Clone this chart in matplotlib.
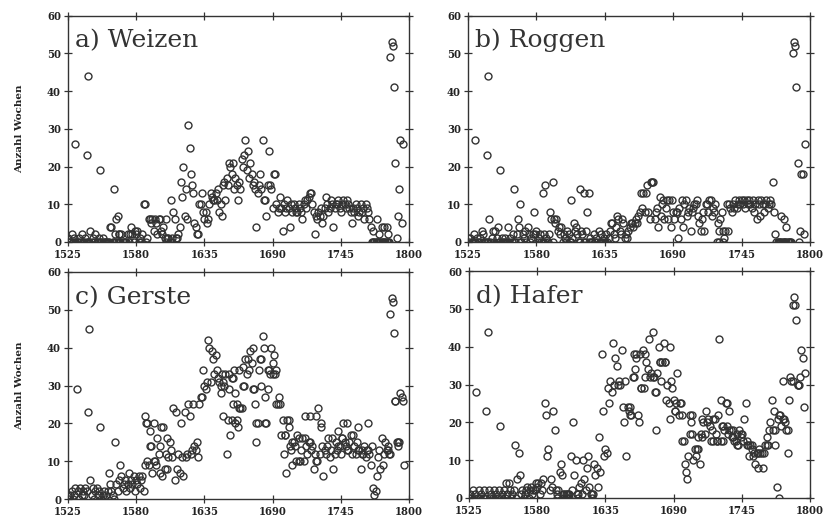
import numpy as np
import matplotlib
matplotlib.use("Agg")
import matplotlib.pyplot as plt

# weeks per year, one value per year starting 1525 (rows of ten years)
weizen = [
    1, 0, 0, 2, 0, 1, 26, 0, 0, 1,
    0, 2, 0, 0, 1, 23, 44, 0, 3, 0,
    1, 0, 2, 0, 0, 1, 19, 0, 1, 0,
    0, 0, 0, 0, 4, 4, 0, 14, 2, 6,
    7, 2, 0, 2, 0, 0, 0, 0, 2, 0,
    2, 4, 2, 0, 3, 2, 3, 0, 1, 0,
    2, 10, 10, 0, 1, 6, 6, 5, 6, 3,
    6, 5, 2, 6, 6, 3, 2, 4, 1, 0,
    1, 1, 0, 11, 1, 8, 6, 1, 1, 2,
    4, 16, 12, 20, 7, 14, 6, 31, 25, 18,
    15, 13, 5, 4, 2, 2, 10, 10, 13, 8,
    6, 8, 5, 6, 10, 13, 12, 11, 11, 13,
    11, 14, 8, 10, 7, 15, 16, 11, 17, 15,
    21, 20, 18, 21, 14, 17, 15, 11, 16, 14,
    22, 20, 23, 27, 19, 24, 17, 21, 18, 15,
    16, 14, 4, 13, 15, 18, 14, 27, 11, 11,
    7, 15, 24, 15, 14, 9, 18, 18, 10, 8,
    9, 12, 9, 3, 10, 8, 9, 11, 9, 4,
    10, 8, 10, 9, 8, 8, 10, 9, 8, 6,
    10, 11, 9, 11, 12, 13, 13, 10, 8, 2,
    7, 6, 8, 7, 9, 5, 7, 9, 12, 10,
    8, 9, 11, 10, 4, 9, 10, 10, 11, 9,
    8, 10, 11, 10, 9, 11, 10, 9, 8, 5,
    9, 8, 10, 9, 7, 8, 10, 8, 9, 6,
    10, 9, 8, 6, 4, 0, 0, 0, 0, 0,
    0, 0, 0, 0, 0, 0, 0, 0, 0, 0,
    49, 53, 52, 41, 21, 1, 7, 14, 27, 5, 26,
]
weizen_x_years = [1531, 1540, 1541, 1551, 1562, 1564, 1565, 1566, 1604, 1771,
                  1774, 1776, 1778, 1780, 1782, 1783]
weizen_x_vals = [0, 0, 0, 0, 0, 0, 0, 2, 6, 3, 6, 2, 4, 4, 4, 2]

roggen = [
    1, 0, 1, 0, 0, 2, 27, 1, 0, 0,
    1, 3, 2, 0, 0, 23, 44, 6, 0, 1,
    3, 0, 3, 1, 4, 0, 19, 1, 0, 0,
    1, 0, 4, 0, 1, 0, 2, 14, 0, 2,
    6, 4, 10, 0, 2, 1, 3, 0, 4, 2,
    0, 1, 2, 8, 2, 3, 0, 1, 2, 0,
    13, 2, 15, 1, 0, 2, 8, 6, 16, 6,
    5, 6, 3, 4, 2, 4, 0, 2, 1, 0,
    3, 2, 0, 11, 1, 5, 3, 4, 2, 0,
    14, 3, 2, 13, 0, 3, 8, 13, 1, 0,
    0, 2, 0, 1, 0, 3, 0, 2, 0, 1,
    0, 2, 0, 1, 3, 5, 5, 2, 1, 4,
    7, 6, 3, 2, 6, 5, 1, 2, 1, 3,
    4, 5, 5, 4, 5, 6, 5, 7, 8, 13,
    9, 13, 8, 13, 15, 8, 6, 16, 16, 16,
    6, 8, 9, 4, 12, 7, 10, 11, 6, 9,
    11, 6, 11, 4, 11, 8, 6, 8, 8, 1,
    9, 6, 11, 4, 10, 11, 7, 8, 9, 3,
    8, 9, 10, 10, 11, 7, 5, 3, 6, 8,
    3, 10, 10, 8, 11, 11, 7, 9, 8, 10,
    0, 5, 3, 6, 8, 3, 1, 3, 10, 3,
    10, 9, 8, 10, 9, 11, 9, 10, 11, 10,
    11, 10, 11, 9, 11, 10, 11, 10, 9, 11,
    8, 10, 6, 11, 10, 7, 11, 10, 8, 10,
    11, 9, 10, 11, 10, 16, 8, 2, 0, 0,
    0, 0, 7, 0, 6, 0, 4, 0, 0, 0,
    0, 50, 53, 52, 41, 21, 0, 3, 18, 18, 2, 26,
]
roggen_x_years = [1531, 1540, 1541, 1551, 1562, 1567, 1585, 1587, 1593, 1608,
                  1615, 1618, 1622, 1727, 1730, 1777, 1779, 1781]
roggen_x_vals = [0, 0, 0, 0, 0, 0, 0, 0, 0, 0, 0, 0, 0, 0, 0, 0, 0, 0]

gerste = [
    1, 0, 1, 2, 0, 1, 3, 29, 2, 0,
    3, 1, 2, 1, 3, 2, 23, 45, 5, 1,
    3, 0, 2, 3, 1, 2, 19, 0, 1, 2,
    0, 1, 2, 7, 4, 2, 1, 0, 15, 4,
    2, 5, 9, 6, 3, 4, 5, 2, 4, 7,
    3, 5, 4, 6, 2, 5, 4, 6, 3, 5,
    6, 2, 22, 20, 10, 9, 18, 14, 7, 20,
    10, 9, 16, 12, 14, 19, 6, 19, 8, 12,
    16, 11, 15, 13, 11, 24, 5, 23, 8, 12,
    7, 20, 11, 6, 23, 11, 12, 25, 22, 12,
    13, 25, 14, 13, 15, 11, 25, 27, 27, 34,
    30, 29, 31, 42, 40, 31, 39, 37, 33, 38,
    34, 32, 31, 28, 33, 22, 30, 33, 12, 21,
    29, 17, 32, 25, 34, 20, 25, 19, 34, 24,
    24, 35, 30, 37, 33, 37, 34, 39, 36, 40,
    29, 25, 15, 20, 34, 37, 37, 43, 40, 27,
    20, 29, 34, 33, 40, 36, 38, 33, 34, 25,
    27, 25, 17, 21, 12, 17, 7, 21, 19, 14,
    13, 9, 15, 14, 10, 17, 16, 10, 13, 16,
    10, 22, 14, 12, 15, 22, 13, 14, 8, 12,
    22, 10, 24, 12, 20, 14, 6, 13, 12, 14,
    16, 11, 13, 16, 8, 12, 15, 13, 18, 14,
    12, 16, 20, 15, 14, 20, 13, 15, 17, 12,
    17, 14, 12, 15, 19, 13, 8, 13, 12, 14,
    11, 13, 20, 12, 9, 14, 3, 1, 2, 6,
    11, 13, 8, 16, 9, 12, 15, 13, 14, 12,
    49, 53, 52, 44, 26, 15, 15, 15, 28, 27, 26, 9,
]
gerste_x_years = [1587, 1589, 1591, 1594, 1599, 1605, 1648, 1650, 1655, 1657,
                  1658, 1660, 1661, 1663, 1666, 1674, 1677, 1681, 1684, 1686,
                  1690, 1693, 1700, 1703, 1706, 1711, 1716, 1720, 1725, 1729,
                  1743, 1746, 1750, 1759, 1762, 1767, 1783, 1785, 1789, 1791]
gerste_x_vals = [9, 20, 14, 10, 7, 8, 30, 31, 33, 21,
                 32, 28, 21, 24, 30, 29, 20, 30, 20, 34,
                 33, 25, 17, 21, 15, 10, 16, 15, 10, 19,
                 14, 16, 13, 13, 12, 13, 13, 12, 26, 14]

hafer = [
    0, 1, 0, 2, 0, 1, 28, 0, 2, 0,
    1, 0, 2, 0, 23, 44, 2, 0, 1, 0,
    2, 0, 1, 0, 2, 19, 0, 1, 2, 0,
    4, 1, 4, 2, 0, 1, 2, 14, 0, 5,
    12, 6, 1, 2, 0, 1, 2, 3, 0, 2,
    3, 1, 2, 2, 4, 3, 4, 1, 4, 2,
    5, 25, 22, 11, 13, 2, 5, 3, 23, 18,
    2, 0, 2, 7, 9, 6, 1, 0, 1, 0,
    1, 0, 11, 2, 20, 6, 10, 1, 0, 3,
    4, 1, 10, 5, 2, 8, 11, 3, 1, 0,
    1, 9, 6, 8, 3, 16, 7, 38, 23, 11,
    13, 12, 29, 25, 31, 28, 41, 30, 37, 35,
    30, 31, 30, 39, 24, 20, 31, 11, 24, 23,
    24, 22, 32, 38, 34, 37, 22, 20, 38, 29,
    39, 29, 38, 36, 34, 42, 32, 33, 44, 32,
    28, 18, 33, 40, 36, 31, 36, 41, 36, 26,
    30, 25, 40, 31, 29, 26, 23, 25, 33, 22,
    25, 25, 22, 15, 9, 7, 5, 11, 17, 20,
    22, 10, 13, 11, 13, 16, 9, 17, 21, 20,
    17, 23, 20, 21, 19, 15, 18, 15, 21, 17,
    15, 22, 42, 26, 19, 15, 18, 25, 19, 17,
    23, 18, 16, 18, 15, 15, 17, 14, 18, 16,
    17, 15, 21, 25, 15, 14, 11, 14, 13, 11,
    12, 9, 12, 8, 13, 12, 12, 8, 12, 14,
    16, 14, 18, 20, 26, 18, 23, 14, 3, 21,
    0, 22, 19, 31, 21, 20, 18, 12, 26, 32,
    31, 51, 53, 51, 47, 30, 30, 32, 39, 37, 24, 33,
]
hafer_x_years = [1596, 1602, 1604, 1606, 1613, 1624, 1655, 1658, 1660, 1664,
                 1667, 1673, 1676, 1679, 1683, 1687, 1691, 1697, 1703, 1705,
                 1710, 1713, 1722, 1725, 1728, 1730, 1733, 1735, 1738, 1741,
                 1744, 1749, 1753, 1758, 1765, 1772, 1775, 1778, 1782, 1786, 1790]
hafer_x_vals = [1, 1, 1, 1, 1, 1, 22, 32, 38, 29,
                32, 32, 28, 36, 36, 21, 23, 15, 22, 17,
                13, 16, 21, 15, 15, 19, 25, 18, 16, 14,
                17, 14, 14, 12, 14, 18, 22, 21, 18, 31, 30]

panels = [
    ("a) Weizen", weizen, weizen_x_years, weizen_x_vals),
    ("b) Roggen", roggen, roggen_x_years, roggen_x_vals),
    ("c) Gerste", gerste, gerste_x_years, gerste_x_vals),
    ("d) Hafer", hafer, hafer_x_years, hafer_x_vals),
]
xticks = [1525, 1580, 1635, 1690, 1745, 1800]
yticks = [0, 10, 20, 30, 40, 50, 60]

W, H = 832, 523
boxes = [(68, 15.5, 409, 242), (468, 15.5, 810, 242),
         (68, 272, 409, 499), (469, 271, 810, 498)]

ink = "#333333"
tickfont = dict(family="DejaVu Serif", weight="bold", stretch="condensed", size=8)

fig = plt.figure(figsize=(W / 100, H / 100), dpi=100)

for i, (title, vals, xy, xv) in enumerate(panels):
    x0, y0, x1, y1 = boxes[i]
    ax = fig.add_axes([x0 / W, 1 - y1 / H, (x1 - x0) / W, (y1 - y0) / H])
    years = np.arange(1525, 1525 + len(vals))
    ax.plot(years, vals, "o", ms=5, mfc="none", mec=ink, mew=1.0)
    ax.plot(xy, xv, "o", ms=5, mfc="none", mec=ink, mew=1.0)
    ax.set_xlim(1525, 1800)
    ax.set_ylim(0, 60)
    ax.set_xticks(xticks)
    ax.set_yticks(yticks)
    ax.set_xticklabels([str(t) for t in xticks], fontdict=tickfont, color="#222")
    ax.set_yticklabels([str(t) for t in yticks], fontdict=tickfont, color="#222")
    ax.tick_params(direction="inout", length=6, width=0.9, color=ink,
                   top=True, right=True, pad=2)
    for s in ax.spines.values():
        s.set_color(ink)
        s.set_linewidth(1.0)
    ax.text(0.02, 0.86, title, transform=ax.transAxes, family="DejaVu Serif",
            fontsize=18, color="#333")
    if i % 2 == 0:
        ax.set_ylabel("Anzahl Wochen", family="DejaVu Serif", weight="bold",
                      fontsize=7.5, color="#222")
        ax.yaxis.set_label_coords(-0.13, 0.5)

fig.savefig("out.png", dpi=100)
